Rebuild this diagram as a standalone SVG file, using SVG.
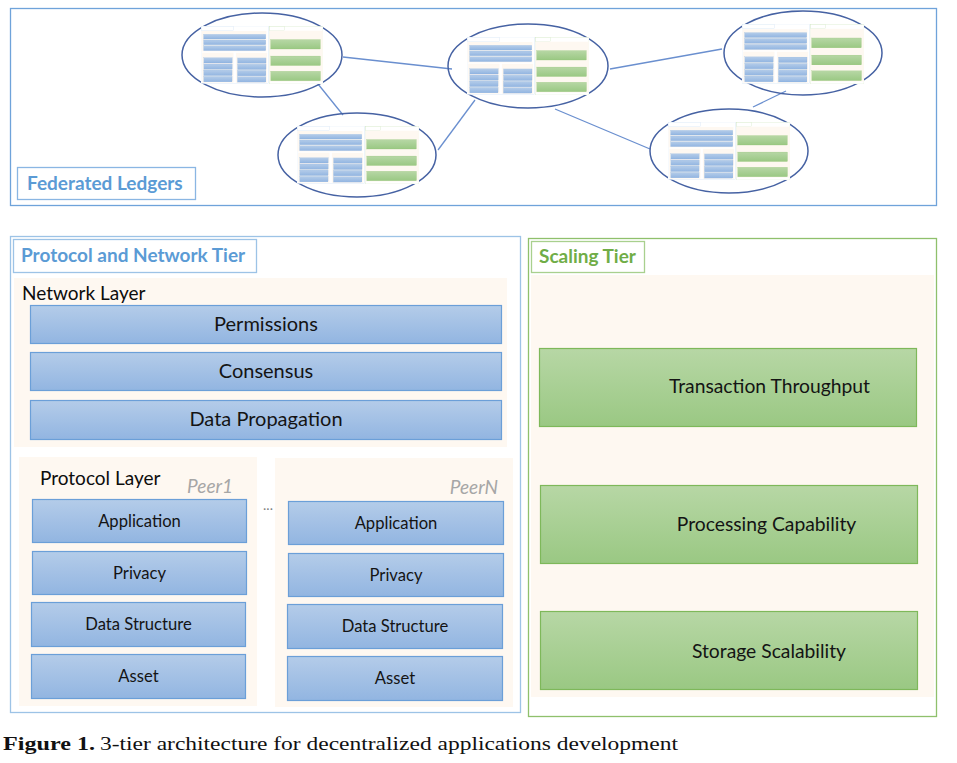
<svg xmlns="http://www.w3.org/2000/svg" xmlns:xlink="http://www.w3.org/1999/xlink" width="957" height="763" viewBox="0 0 957 763">
<style>
.lbl{font-family:Lato,"Liberation Sans",sans-serif;fill:#141414;text-anchor:middle}
.big{font-size:20px}
.gr{font-size:19.3px}
.sm{font-size:16.6px}
.ttl{font-family:Lato,"Liberation Sans",sans-serif;font-weight:bold;font-size:19px}
.layer{font-family:Lato,"Liberation Sans",sans-serif;font-size:19px;fill:#0d0d0d}
.peer{font-family:Lato,"Liberation Sans",sans-serif;font-style:italic;font-size:19px;fill:#a6a6a6;text-anchor:end}
.bbox{fill:url(#gb);stroke:#6b9fd8;stroke-width:1.2}
.gbox{fill:url(#gg);stroke:#7eb85a;stroke-width:1.2}
.cream{fill:#fef8f1}
.ell{fill:#ffffff;fill-opacity:0;stroke:#4662a3;stroke-width:1.5}
.conn line{stroke:#6a8fcf;stroke-width:1.3}
.cap{font-family:"Liberation Serif",serif;font-size:19px;fill:#111}
</style>
<defs>
<linearGradient id="gb" x1="0" y1="0" x2="0" y2="1"><stop offset="0" stop-color="#b4cce9"/><stop offset="1" stop-color="#92b5e1"/></linearGradient>
<linearGradient id="gg" x1="0" y1="0" x2="0" y2="1"><stop offset="0" stop-color="#b7d7a5"/><stop offset="1" stop-color="#9ac883"/></linearGradient>
<symbol id="mini" viewBox="0 0 927 481" preserveAspectRatio="none">
<rect x="0" y="0" width="511" height="477" fill="#fff" stroke="#d3e4f5" stroke-width="3"/>
<rect x="3" y="3" width="244" height="34" fill="#fff" stroke="#d3e4f5" stroke-width="3"/>
<rect x="4" y="42" width="493" height="169" class="cream"/>
<rect x="20" y="69" width="472" height="39" class="bbox" stroke-width="2"/>
<rect x="20" y="116" width="472" height="39" class="bbox" stroke-width="2"/>
<rect x="20" y="164" width="472" height="40" class="bbox" stroke-width="2"/>
<rect x="9" y="221" width="238" height="249" class="cream"/>
<rect x="265" y="222" width="238" height="249" class="cream"/>
<rect x="22" y="263" width="215" height="44" class="bbox" stroke-width="2"/>
<rect x="22" y="315" width="215" height="44" class="bbox" stroke-width="2"/>
<rect x="21" y="366" width="215" height="45" class="bbox" stroke-width="2"/>
<rect x="21" y="418" width="215" height="45" class="bbox" stroke-width="2"/>
<rect x="278" y="265" width="216" height="44" class="bbox" stroke-width="2"/>
<rect x="278" y="317" width="216" height="44" class="bbox" stroke-width="2"/>
<rect x="277" y="368" width="216" height="45" class="bbox" stroke-width="2"/>
<rect x="277" y="420" width="216" height="45" class="bbox" stroke-width="2"/>
<rect x="518" y="2" width="409" height="479" fill="#fff" stroke="#d5e9c8" stroke-width="3"/>
<rect x="521" y="5" width="114" height="32" fill="#fff" stroke="#d5e9c8" stroke-width="3"/>
<rect x="521" y="39" width="404" height="422" class="cream"/>
<rect x="529" y="112" width="378" height="79" class="gbox" stroke-width="2"/>
<rect x="530" y="249" width="378" height="79" class="gbox" stroke-width="2"/>
<rect x="530" y="375" width="378" height="79" class="gbox" stroke-width="2"/>
</symbol>
</defs>
<rect width="957" height="763" fill="#ffffff"/>

<g id="federated-ledgers">
<rect x="10.5" y="8.5" width="926" height="197" fill="#fff" stroke="#6fa3da" stroke-width="1.3"/>
<rect x="17.5" y="167.5" width="178" height="32" fill="#fff" stroke="#8ab6e3" stroke-width="1.3"/>
<text x="27" y="190" class="ttl" fill="#5b9bd5">Federated Ledgers</text>
</g>

<g id="connectors" class="conn">
<line x1="343" y1="57" x2="452" y2="69"/>
<line x1="318" y1="84" x2="343" y2="115"/>
<line x1="438" y1="150" x2="475" y2="100"/>
<line x1="610" y1="69" x2="722" y2="49"/>
<line x1="555" y1="109" x2="650" y2="149"/>
<line x1="753" y1="107" x2="786" y2="91"/>
</g>

<g id="ledger1"><ellipse cx="262" cy="55" rx="80" ry="42" class="ell"/><use xlink:href="#mini" x="201" y="26" width="122" height="58"/></g>
<g id="ledger2"><ellipse cx="357" cy="155" rx="79" ry="42" class="ell"/><use xlink:href="#mini" x="297" y="126" width="122" height="58"/></g>
<g id="ledger3"><ellipse cx="528" cy="66" rx="80" ry="42" class="ell"/><use xlink:href="#mini" x="467" y="37" width="122" height="58"/></g>
<g id="ledger4"><ellipse cx="803" cy="53" rx="79" ry="42" class="ell"/><use xlink:href="#mini" x="742" y="24" width="122" height="60"/></g>
<g id="ledger5"><ellipse cx="729" cy="151" rx="79" ry="42" class="ell"/><use xlink:href="#mini" x="668" y="122" width="122" height="58"/></g>

<g id="protocol-network-tier">
<rect x="10.5" y="236.5" width="510" height="476" fill="#fff" stroke="#9dc3e6" stroke-width="1.3"/>
<rect x="13.5" y="239.5" width="243" height="33" fill="#fff" stroke="#9dc3e6" stroke-width="1.3"/>
<text x="21" y="262" class="ttl" fill="#5b9bd5">Protocol and Network Tier</text>
</g>

<g id="network-layer">
<rect x="14" y="278" width="493" height="169" class="cream"/>
<text x="22" y="300" class="layer">Network Layer</text>
</g>
<g id="permissions"><rect x="30.5" y="305.5" width="471" height="38" class="bbox"/><text x="266" y="331" class="lbl big">Permissions</text></g>
<g id="consensus"><rect x="30.5" y="352.5" width="471" height="38" class="bbox"/><text x="266" y="378" class="lbl big">Consensus</text></g>
<g id="data-propagation"><rect x="30.5" y="400.5" width="471" height="39" class="bbox"/><text x="266" y="426" class="lbl big">Data Propagation</text></g>

<g id="peer1">
<rect x="19" y="457" width="238" height="249" class="cream"/>
<text x="40" y="485" class="layer">Protocol Layer</text>
<text x="233" y="493" class="peer">Peer1</text>
</g>
<g id="p1-application"><rect x="32.5" y="499.5" width="214" height="43" class="bbox"/><text x="139.5" y="527" class="lbl sm">Application</text></g>
<g id="p1-privacy"><rect x="32.5" y="551.5" width="214" height="43" class="bbox"/><text x="139.5" y="579" class="lbl sm">Privacy</text></g>
<g id="p1-data-structure"><rect x="31.5" y="602.5" width="214" height="44" class="bbox"/><text x="138.5" y="630" class="lbl sm">Data Structure</text></g>
<g id="p1-asset"><rect x="31.5" y="654.5" width="214" height="44" class="bbox"/><text x="138.5" y="682" class="lbl sm">Asset</text></g>

<g id="ellipsis"><text x="268" y="510" font-family="Lato,'Liberation Sans',sans-serif" font-size="14" fill="#7f7f7f" text-anchor="middle">...</text></g>

<g id="peerN">
<rect x="275" y="458" width="238" height="249" class="cream"/>
<text x="498" y="494" class="peer">PeerN</text>
</g>
<g id="pn-application"><rect x="288.5" y="501.5" width="215" height="43" class="bbox"/><text x="396" y="529" class="lbl sm">Application</text></g>
<g id="pn-privacy"><rect x="288.5" y="553.5" width="215" height="43" class="bbox"/><text x="396" y="581" class="lbl sm">Privacy</text></g>
<g id="pn-data-structure"><rect x="287.5" y="604.5" width="215" height="44" class="bbox"/><text x="395" y="632" class="lbl sm">Data Structure</text></g>
<g id="pn-asset"><rect x="287.5" y="656.5" width="215" height="44" class="bbox"/><text x="395" y="684" class="lbl sm">Asset</text></g>

<g id="scaling-tier">
<rect x="528.5" y="238.5" width="408" height="478" fill="#fff" stroke="#8fc06c" stroke-width="1.3"/>
<rect x="531.5" y="241.5" width="113" height="31" fill="#fff" stroke="#a9d08e" stroke-width="1.3"/>
<text x="539" y="263" class="ttl" fill="#70ad47">Scaling Tier</text>
<rect x="531" y="275" width="403" height="422" class="cream"/>
</g>
<g id="transaction-throughput"><rect x="539.5" y="348.5" width="377" height="78" class="gbox"/><text x="769.5" y="393" class="lbl gr">Transaction Throughput</text></g>
<g id="processing-capability"><rect x="540.5" y="485.5" width="377" height="78" class="gbox"/><text x="766.5" y="531" class="lbl gr">Processing Capability</text></g>
<g id="storage-scalability"><rect x="540.5" y="611.5" width="377" height="78" class="gbox"/><text x="769" y="658" class="lbl gr">Storage Scalability</text></g>

<g id="caption">
<text x="3" y="750" class="cap" font-weight="bold" textLength="92" lengthAdjust="spacingAndGlyphs">Figure 1.</text>
<text x="100" y="750" class="cap" textLength="578" lengthAdjust="spacingAndGlyphs">3-tier architecture for decentralized applications development</text>
</g>
</svg>
